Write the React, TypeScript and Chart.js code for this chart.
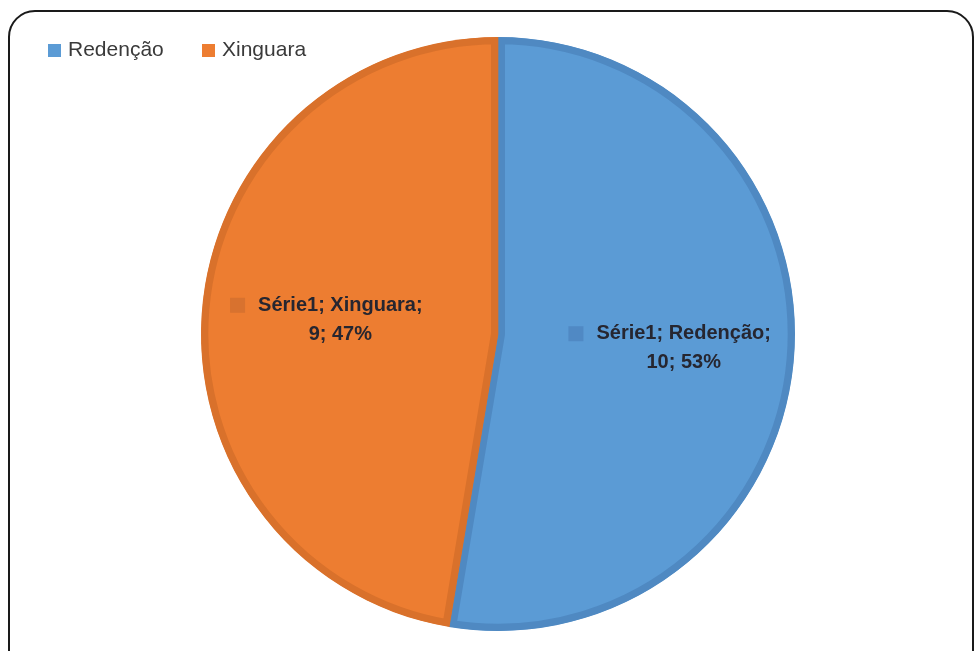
import React, { useEffect, useRef } from "react";
import { Chart, registerables } from "chart.js";

Chart.register(...registerables);

const categories = ["Redenção", "Xinguara"];
const seriesName = "Série1";
const values = [10, 9];
const fillColors = ["#5B9BD5", "#ED7D31"];
const borderColors = ["#4F89C2", "#D9712B"];
const markerColors = ["#5089C4", "#D8722F"];

const labelPlugin = {
  id: "excelLabels",
  afterDraw(chart: any) {
    const ctx = chart.ctx;
    const meta = chart.getDatasetMeta(0);
    const data = chart.data.datasets[0].data as number[];
    const total = data.reduce((a: number, b: number) => a + b, 0);
    ctx.save();
    // data labels
    meta.data.forEach((arc: any, i: number) => {
      const { x, y, startAngle, endAngle, outerRadius } = arc.getProps(
        ["x", "y", "startAngle", "endAngle", "outerRadius"],
        true
      );
      const mid = (startAngle + endAngle) / 2;
      const d = outerRadius * 0.58;
      const bx = x + Math.cos(mid) * d;
      const by = y + Math.sin(mid) * d;
      const tx = bx + 14;
      const pct = Math.round((data[i] / total) * 100);
      const line1 = `${seriesName}; ${chart.data.labels[i]};`;
      const line2 = `${data[i]}; ${pct}%`;
      ctx.font = "bold 20px 'Liberation Sans', Arial, sans-serif";
      ctx.fillStyle = "#262630";
      ctx.textAlign = "center";
      ctx.textBaseline = "middle";
      const y1 = by - 14.5;
      const y2 = by + 14.5;
      ctx.fillText(line1, tx, y1);
      ctx.fillText(line2, tx, y2);
      const w = ctx.measureText(line1).width;
      const left = tx - w / 2;
      ctx.fillStyle = markerColors[i];
      ctx.fillRect(left - 28, y1 - 7.5, 15, 15);
    });
    // legend
    ctx.font = "21px 'Liberation Sans', Arial, sans-serif";
    ctx.textAlign = "left";
    ctx.textBaseline = "middle";
    const legendX = [48, 202];
    chart.data.labels.forEach((lab: string, i: number) => {
      ctx.fillStyle = fillColors[i];
      ctx.fillRect(legendX[i], 44, 13, 13);
      ctx.fillStyle = "#3a3a3a";
      ctx.fillText(lab, legendX[i] + 20, 50);
    });
    ctx.restore();
  },
};

export default function App() {
  const canvasRef = useRef<HTMLCanvasElement>(null);

  useEffect(() => {
    if (!canvasRef.current) return;
    const chart = new Chart(canvasRef.current, {
      type: "pie",
      data: {
        labels: categories,
        datasets: [
          {
            label: seriesName,
            data: values,
            backgroundColor: fillColors,
            borderColor: borderColors,
            borderWidth: 7,
            borderAlign: "inner",
            hoverOffset: 0,
          } as any,
        ],
      },
      options: {
        animation: false,
        responsive: true,
        maintainAspectRatio: false,
        layout: { padding: { top: 37, bottom: 20, left: 201, right: 181 } },
        plugins: {
          legend: { display: false },
          tooltip: { enabled: false },
        },
      },
      plugins: [labelPlugin],
    });
    return () => chart.destroy();
  }, []);

  return (
    <div
      style={{
        position: "fixed",
        left: 0,
        top: 0,
        width: 976,
        height: 651,
        overflow: "hidden",
        background: "#fff",
      }}
    >
      <div
        style={{
          position: "absolute",
          left: 8,
          top: 10,
          width: 966,
          height: 670,
          boxSizing: "border-box",
          border: "2px solid #1a1a1a",
          borderRadius: 27,
        }}
      />
      <div style={{ position: "absolute", left: 0, top: 0, width: 976, height: 651 }}>
        <canvas ref={canvasRef} />
      </div>
    </div>
  );
}
